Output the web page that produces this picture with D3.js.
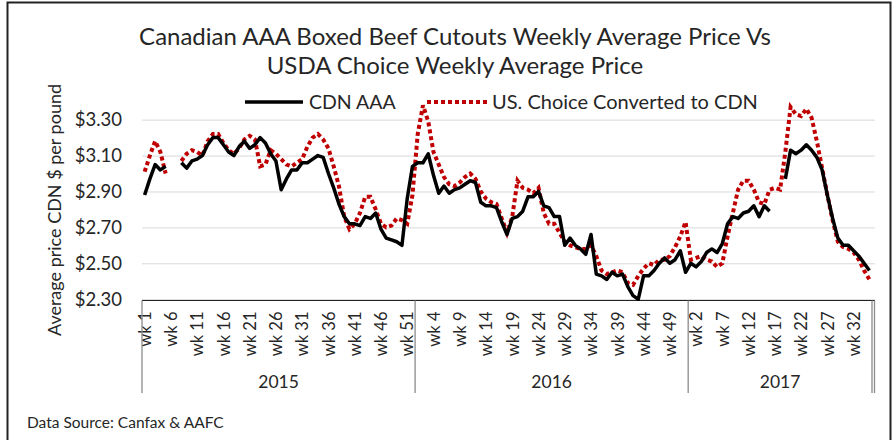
<!DOCTYPE html>
<html>
<head>
<meta charset="utf-8">
<script src="https://cdnjs.cloudflare.com/ajax/libs/d3/7.8.5/d3.min.js"></script>
<style>
  body { margin: 0; background: #fff; }
  text { font-family: Lato, "Open Sans", sans-serif; fill: #262626; }
</style>
</head>
<body>
<svg id="chart" width="893" height="440"></svg>
<script>
// week groups on the category axis
var years = ["2015", "2016", "2017"];
var weeksPerYear = [52, 52, 35];

var yTicks = [2.30, 2.50, 2.70, 2.90, 3.10, 3.30];

// CDN AAA weekly average ($/lb), null = no report
var cdnAAA = [
  2.88, 2.97, 3.05, 3.02, 3.04, null, null, 3.06, 3.03, 3.07,
  3.08, 3.10, 3.16, 3.20, 3.20, 3.16, 3.12, 3.10, 3.15, 3.18,
  3.14, 3.16, 3.20, 3.17, 3.11, 3.07, 2.91, 2.97, 3.02, 3.02,
  3.06, 3.06, 3.08, 3.10, 3.09, 3.00, 2.92, 2.83, 2.76, 2.72,
  2.72, 2.71, 2.76, 2.75, 2.78, 2.69, 2.64, 2.63, 2.62, 2.60,
  2.86, 3.04,
  3.06, 3.06, 3.11, 2.99, 2.89, 2.93, 2.89, 2.91, 2.92, 2.94,
  2.96, 2.95, 2.84, 2.82, 2.82, 2.81, 2.73, 2.66, 2.75, 2.76,
  2.79, 2.87, 2.87, 2.90, 2.82, 2.81, 2.76, 2.76, 2.60, 2.64,
  2.60, 2.58, 2.55, 2.66, 2.44, 2.43, 2.41, 2.45, 2.43, 2.44,
  2.37, 2.32, 2.30, 2.43, 2.43, 2.46, 2.50, 2.53, 2.50, 2.52,
  2.57, 2.45,
  2.50, 2.48, 2.51, 2.56, 2.58, 2.56, 2.61, 2.72, 2.76, 2.75,
  2.78, 2.79, 2.82, 2.76, 2.82, 2.79, null, null, 2.97, 3.13,
  3.11, 3.13, 3.16, 3.13, 3.09, 3.02, 2.88, 2.75, 2.64, 2.60,
  2.60, 2.57, 2.54, 2.50, 2.46
];

// US Choice converted to CDN ($/lb)
var usChoice = [
  3.01, 3.10, 3.18, 3.12, 3.00, null, null, 3.07, 3.11, 3.13,
  3.12, 3.10, 3.18, 3.22, 3.22, 3.17, 3.13, 3.11, 3.14, 3.19,
  3.21, 3.19, 3.04, 3.05, 3.13, 3.11, 3.08, 3.05, 3.04, 3.06,
  3.08, 3.15, 3.20, 3.22, 3.19, 3.14, 3.04, 2.93, 2.76, 2.69,
  2.72, 2.78, 2.87, 2.87, 2.80, 2.72, 2.70, 2.71, 2.75, 2.74,
  2.72, 2.88,
  3.22, 3.38, 3.29, 3.12, 3.05, 2.98, 2.94, 2.93, 2.95, 2.98,
  3.00, 2.97, 2.90, 2.86, 2.84, 2.83, 2.75, 2.67, 2.76, 2.96,
  2.92, 2.91, 2.89, 2.92, 2.78, 2.72, 2.72, 2.67, 2.62, 2.60,
  2.59, 2.58, 2.58, 2.60, 2.54, 2.46, 2.44, 2.45, 2.46, 2.45,
  2.39, 2.38, 2.43, 2.47, 2.50, 2.49, 2.52, 2.52, 2.54, 2.59,
  2.65, 2.73,
  2.52, 2.53, 2.54, 2.52, 2.51, 2.48, 2.50, 2.65, 2.78, 2.91,
  2.96, 2.96, 2.91, 2.84, 2.83, 2.91, 2.92, 2.91, 3.12, 3.37,
  3.33, 3.32, 3.36, 3.31, 3.18, 3.03, 2.88, 2.74, 2.62, 2.59,
  2.58, 2.56, 2.52, 2.46, 2.41
];

var svg = d3.select("#chart");

// build category list (year, week)
var cats = [];
years.forEach(function(yr, k) {
  for (var w = 1; w <= weeksPerYear[k]; w++) cats.push({year: yr, wk: w, i: cats.length});
});

var plotL = 142, plotR = 872, plotT = 101.7, plotB = 299.2;

var x = d3.scalePoint()
    .domain(d3.range(cats.length))
    .range([plotL, plotR])
    .padding(0.5);

var y = d3.scaleLinear()
    .domain([2.3, 3.4])
    .range([plotB, plotT]);

// outer frame
svg.append("rect")
    .attr("x", 7.5).attr("y", 2.5)
    .attr("width", 883).attr("height", 450)
    .attr("fill", "none").attr("stroke", "#222").attr("stroke-width", 2);

// title
svg.append("text").attr("x", 455).attr("y", 45)
    .attr("text-anchor", "middle").style("font-size", "24px")
    .text("Canadian AAA Boxed Beef Cutouts Weekly Average Price Vs");
svg.append("text").attr("x", 455).attr("y", 74)
    .attr("text-anchor", "middle").style("font-size", "24px")
    .text("USDA Choice Weekly Average Price");

// gridlines
var grid = d3.axisRight(y).tickValues(yTicks).tickSize(875 - plotL).tickFormat("");
svg.append("g")
    .attr("transform", "translate(" + plotL + ",0)")
    .call(grid)
    .call(function(g) {
      g.select(".domain").remove();
      g.selectAll(".tick line").attr("stroke", "#d9d9d9").attr("stroke-width", 1);
    });

// y labels
var yAxis = d3.axisLeft(y).tickValues(yTicks).tickSize(0).tickPadding(20)
    .tickFormat(function(d) { return "$" + d.toFixed(2); });
svg.append("g")
    .attr("transform", "translate(" + plotL + ",0)")
    .call(yAxis)
    .call(function(g) {
      g.select(".domain").remove();
      g.selectAll(".tick text").attr("fill", "#262626")
        .style("font-family", "Lato, sans-serif").style("font-size", "18.5px");
    });

svg.append("text")
    .attr("transform", "translate(61,210) rotate(-90)")
    .attr("text-anchor", "middle").style("font-size", "18px")
    .text("Average price CDN $ per pound");

// category axis: week labels every 5th week
var xAxis = d3.axisBottom(x)
    .tickValues(cats.filter(function(c) { return c.i % 5 === 0; }).map(function(c) { return c.i; }))
    .tickSize(0)
    .tickFormat(function(i) { return "wk " + cats[i].wk; });
svg.append("g")
    .attr("transform", "translate(0," + 300.5 + ")")
    .call(xAxis)
    .call(function(g) {
      g.select(".domain").remove();
      g.selectAll(".tick text")
        .attr("transform", "rotate(-90)")
        .attr("x", -11).attr("y", 0).attr("dy", "0.35em")
        .attr("text-anchor", "end")
        .attr("fill", "#262626")
        .style("font-family", "Lato, sans-serif").style("font-size", "16.5px");
    });

// axis line
svg.append("line")
    .attr("x1", plotL).attr("x2", 875).attr("y1", 300.5).attr("y2", 300.5)
    .attr("stroke", "#222").attr("stroke-width", 1.2);

// year group dividers and labels
var bounds = [0];
weeksPerYear.forEach(function(n, k) { bounds.push(bounds[k] + n); });
var step = x.step();
function edge(idx) { return plotL + idx * step; }
bounds.forEach(function(b) {
  svg.append("line")
      .attr("x1", edge(b)).attr("x2", edge(b)).attr("y1", 300.5).attr("y2", 393)
      .attr("stroke", "#8c8c8c").attr("stroke-width", 1.3);
});
svg.append("line")
    .attr("x1", 874.5).attr("x2", 874.5).attr("y1", 300.5).attr("y2", 393)
    .attr("stroke", "#8c8c8c").attr("stroke-width", 1.3);
years.forEach(function(yr, k) {
  svg.append("text")
      .attr("x", (edge(bounds[k]) + edge(bounds[k + 1])) / 2)
      .attr("y", 388)
      .attr("text-anchor", "middle").style("font-size", "17.5px")
      .text(yr);
});

// series lines
var line = d3.line()
    .defined(function(d) { return d != null; })
    .x(function(d, i) { return x(i); })
    .y(function(d) { return y(d); });

svg.append("path")
    .datum(usChoice)
    .attr("fill", "none")
    .attr("stroke", "#c00000")
    .attr("stroke-width", 4)
    .attr("stroke-dasharray", "4,3")
    .attr("d", line);

svg.append("path")
    .datum(cdnAAA)
    .attr("fill", "none")
    .attr("stroke", "#000")
    .attr("stroke-width", 3.5)
    .attr("stroke-linejoin", "round")
    .attr("d", line);

// legend
svg.append("line").attr("x1", 245).attr("x2", 303).attr("y1", 102).attr("y2", 102)
    .attr("stroke", "#000").attr("stroke-width", 3.5);
svg.append("text").attr("x", 309).attr("y", 109).style("font-size", "19.5px").text("CDN AAA");
svg.append("line").attr("x1", 427).attr("x2", 487).attr("y1", 102).attr("y2", 102)
    .attr("stroke", "#c00000").attr("stroke-width", 4).attr("stroke-dasharray", "4,3");
svg.append("text").attr("x", 492).attr("y", 109).style("font-size", "20px")
    .text("US. Choice Converted to CDN");

// source note
svg.append("text").attr("x", 27).attr("y", 428).style("font-size", "15.5px")
    .text("Data Source: Canfax & AAFC");
</script>
</body>
</html>
